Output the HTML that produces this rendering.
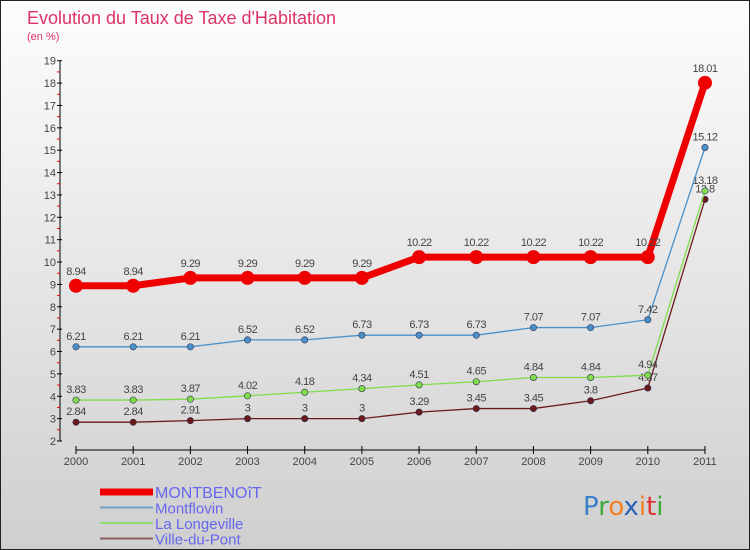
<!DOCTYPE html>
<html><head><meta charset="utf-8"><style>
body{margin:0;width:750px;height:550px;overflow:hidden;font-family:"Liberation Sans",sans-serif}
#c{position:absolute;left:0;top:0;width:748px;height:548px;border:1px solid #222;background:linear-gradient(#fdfdfd,#cfcfcf)}
</style></head><body>
<div id="c">
<svg id="s" width="750" height="550" style="position:absolute;left:-1px;top:-1px"></svg>
</div>
<script>
const years=["2000","2001","2002","2003","2004","2005","2006","2007","2008","2009","2010","2011"];
const montbenoit=[8.94,8.94,9.29,9.29,9.29,9.29,10.22,10.22,10.22,10.22,10.22,18.01];
const montflovin=[6.21,6.21,6.21,6.52,6.52,6.73,6.73,6.73,7.07,7.07,7.42,15.12];
const longeville=[3.83,3.83,3.87,4.02,4.18,4.34,4.51,4.65,4.84,4.84,4.94,13.18];
const villeDuPont=[2.84,2.84,2.91,3,3,3,3.29,3.45,3.45,3.8,4.37,12.8];
const yTicks=[2,3,4,5,6,7,8,9,10,11,12,13,14,15,16,17,18,19];
const series=[
 {name:"ville-du-pont",label:"Ville-du-Pont",data:villeDuPont,color:"#6b1a1a",lw:1.3,r:3.2,legend:"#8a6060"},
 {name:"la-longeville",label:"La Longeville",data:longeville,color:"#7fdc4a",lw:1.3,r:3.2,legend:"#90dc70"},
 {name:"montflovin",label:"Montflovin",data:montflovin,color:"#4a90c8",lw:1.3,r:3.2,legend:"#6fa0c8"},
 {name:"montbenoit",label:"MONTBENOîT",data:montbenoit,color:"#ee0000",lw:7,r:7,legend:"#ee0000"}
];
const NS="http://www.w3.org/2000/svg";
const svg=document.getElementById('s');
function X(i){return 76+i*57.18;}
function Y(v){return 441-(v-2)*22.37;}
function el(t,a,p){const e=document.createElementNS(NS,t);for(const k in a)e.setAttribute(k,a[k]);(p||svg).appendChild(e);return e;}
function tx(x,y,s,size,fill,anchor,name){const e=el('text',{x:x,y:y,'font-size':size,fill:fill,'text-anchor':anchor||'start','font-family':'Liberation Sans, sans-serif'});e.textContent=s;return e;}
tx(27,24,"Evolution du Taux de Taxe d'Habitation",18,"#dd3366","start","chart-title");
tx(27,40,"(en %)",11,"#dd3366","start","y-axis-unit");
// y axis
let ax=el('line',{x1:60,y1:Y(19),x2:60,y2:Y(2),stroke:'#000'});

yTicks.forEach(v=>{
 const t=el('line',{x1:57,y1:Y(v),x2:62,y2:Y(v),stroke:'#000'});
 
 if(v<19){const m=el('line',{x1:57,y1:Y(v+0.5),x2:60,y2:Y(v+0.5),stroke:'#e00'});}
 tx(56,Y(v)+4,String(v),11,"#444","end","y-tick-label");
});
// x axis
let xa=el('line',{x1:X(0),y1:450,x2:X(11),y2:450,stroke:'#000'});

years.forEach((y,i)=>{
 const t=el('line',{x1:X(i),y1:446,x2:X(i),y2:454,stroke:'#000'});
 
 tx(X(i),465,y,11,"#444","middle","x-tick-label");
});
series.forEach(s=>{
 const g=el('g',{});
 
 const p=el('polyline',{points:s.data.map((v,i)=>X(i)+','+Y(v)).join(' '),fill:'none',stroke:s.color,'stroke-width':s.lw,'stroke-linejoin':'round'},g);
 
 s.data.forEach((v,i)=>{
  const c=el('circle',{cx:X(i),cy:Y(v),r:s.r,fill:s.color,stroke:'#335',"stroke-width":s.lw>2?0:0.6},g);
  
  const t=tx(X(i),Y(v)-(s.lw>2?11:7),String(v),11,"#444","middle",s.name+'-value-label');
  t.setAttribute('letter-spacing','-0.5');
 });
});
// legend
const leg=[series[3],series[2],series[1],series[0]];
leg.forEach((s,i)=>{
 const y=492+i*15.5;
 const l=el('line',{x1:100,y1:y,x2:153,y2:y,stroke:s.legend,'stroke-width':s.lw>2?7:2});
 
 tx(155,y+6,s.label,i==0?16:15,"#6666ee","start",s.name+'-legend-label');
});
// logo
const lg=el('text',{x:583,y:515,'font-size':26,'font-family':'DejaVu Sans, sans-serif'});

[["P","#3a7fc8"],["r","#3aaa3a"],["o","#f08020"],["x","#2a60b8"],["i","#f08020"],["t","#e03030"],["i","#3aaa3a"]].forEach(([c,f])=>{const t=el('tspan',{fill:f},lg);t.textContent=c;});
</script>
</body></html>
